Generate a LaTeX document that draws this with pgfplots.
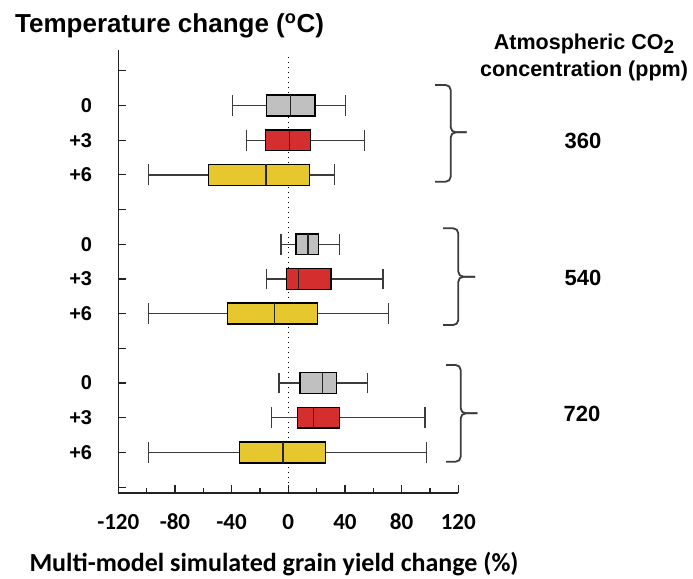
\documentclass[border=0pt]{standalone}
\usepackage{pgfplots}
\pgfplotsset{compat=1.18}
\usepgfplotslibrary{statistics}
\usepackage{fontspec}
\setmainfont{Liberation Sans}
\newfontfamily\calibri{Carlito}

\definecolor{boxgray}{HTML}{C0C0C0}
\definecolor{boxred}{HTML}{D42E2E}
\definecolor{boxyellow}{HTML}{E6C82E}
\definecolor{whisk}{HTML}{3C3C3C}
\definecolor{axcol}{HTML}{222222}

\pgfplotsset{
  hbox/.style={draw=black, line width=1.5pt,
    boxplot/draw direction=x,
    boxplot/box extend=0.6,
    boxplot/whisker extend=0.6,
    boxplot/every whisker/.style={draw=whisk, line width=1.3pt},
    boxplot/every median/.style={draw=black!85, line width=1.5pt}},
}

\begin{document}
\begin{tikzpicture}
\path[use as bounding box] (0pt,0pt) rectangle (693pt,-578pt);

\begin{axis}[
    at={(118.3pt,-493pt)}, anchor=south west,
    scale only axis,
    width=340pt, height=443pt,
    xmin=-120, xmax=120,
    ymin=0.83, ymax=13.6,
    axis lines=left,
    axis line style={-, line width=1.5pt, draw=axcol},
    tick align=inside,
    major tick length=8pt, minor tick length=5pt,
    tick style={line width=1.2pt, draw=axcol},
    xtick={-120,-80,...,120},
    xticklabels={-120,-80,-40,0,40,80,120},
    minor xtick={-100,-60,...,100},
    ytick={1,...,13},
    yticklabels={,+6,+3,0,,+6,+3,0,,+6,+3,0,},
    xticklabel style={font=\calibri\bfseries\fontsize{23}{26}\selectfont, anchor=center, yshift=-28.7pt},
    yticklabel style={font=\bfseries\fontsize{20}{24}\selectfont, anchor=east, inner sep=0pt, xshift=-26pt},
    clip=false,
]

\draw[line width=1.2pt, dash pattern=on 1.4pt off 3.6pt] (axis cs:0,0.83) -- (axis cs:0,13.45);

% 360 ppm
\addplot[hbox, fill=boxgray, boxplot prepared={draw position=12, lower whisker=-39.5, lower quartile=-15.3, median=1.4, upper quartile=18.8, upper whisker=40.5}] coordinates {};
\addplot[hbox, fill=boxred, boxplot prepared={draw position=11, lower whisker=-29.4, lower quartile=-16.0, median=1.0, upper quartile=15.8, upper whisker=53.7}] coordinates {};
\addplot[hbox, fill=boxyellow, boxplot prepared={draw position=10, lower whisker=-98.8, lower quartile=-56.2, median=-15.7, upper quartile=14.8, upper whisker=32.7}] coordinates {};

% 540 ppm
\addplot[hbox, fill=boxgray, boxplot prepared={draw position=8, lower whisker=-5.2, lower quartile=5.6, median=13.9, upper quartile=21.4, upper whisker=36.3}] coordinates {};
\addplot[hbox, fill=boxred, boxplot prepared={draw position=7, lower whisker=-15.3, lower quartile=-1.2, median=7.1, upper quartile=30.1, upper whisker=66.8}] coordinates {};
\addplot[hbox, fill=boxyellow, boxplot prepared={draw position=6, lower whisker=-98.8, lower quartile=-42.8, median=-9.9, upper quartile=20.7, upper whisker=70.6}] coordinates {};

% 720 ppm
\addplot[hbox, fill=boxgray, boxplot prepared={draw position=4, lower whisker=-6.6, lower quartile=8.3, median=24.0, upper quartile=33.9, upper whisker=55.8}] coordinates {};
\addplot[hbox, fill=boxred, boxplot prepared={draw position=3, lower whisker=-11.7, lower quartile=6.6, median=17.9, upper quartile=36.3, upper whisker=96.5}] coordinates {};
\addplot[hbox, fill=boxyellow, boxplot prepared={draw position=2, lower whisker=-98.8, lower quartile=-34.6, median=-3.7, upper quartile=26.1, upper whisker=97.7}] coordinates {};

\end{axis}

% titles
\node[anchor=base west, inner sep=0pt, font=\bfseries\fontsize{26}{30}\selectfont] at (15pt,-33pt) {Temperature change (\textsuperscript{o}C)};
\node[anchor=base, inner sep=0pt, font=\bfseries\fontsize{21.5}{25}\selectfont] at (584pt,-50pt) {Atmospheric CO\raisebox{-0.28ex}{\fontsize{19}{20}\selectfont 2}};
\node[anchor=base, inner sep=0pt, font=\bfseries\fontsize{21.5}{25}\selectfont] at (584pt,-76pt) {concentration (ppm)};
\node[anchor=base, inner sep=0pt, font=\calibri\bfseries\fontsize{26}{30}\selectfont] at (274pt,-571pt) {Multi-model simulated grain yield change (\%)};

% braces and CO2 levels
\begin{scope}[line width=1.8pt, draw=whisk, rounded corners=5pt]
\draw (435pt,-85pt) -- (450.7pt,-85pt) -- (450.7pt,-132.3pt) -- (466.7pt,-132.3pt);
\draw (466.7pt,-132.3pt) -- (450.7pt,-132.3pt) -- (450.7pt,-181.7pt) -- (435pt,-181.7pt);
\draw (443pt,-228.3pt) -- (458.3pt,-228.3pt) -- (458.3pt,-276.7pt) -- (475pt,-276.7pt);
\draw (475pt,-276.7pt) -- (458.3pt,-276.7pt) -- (458.3pt,-325pt) -- (443pt,-325pt);
\draw (446pt,-365pt) -- (460.7pt,-365pt) -- (460.7pt,-413.3pt) -- (477.3pt,-413.3pt);
\draw (477.3pt,-413.3pt) -- (460.7pt,-413.3pt) -- (460.7pt,-461.7pt) -- (446pt,-461.7pt);
\end{scope}
\node[anchor=base, inner sep=0pt, font=\bfseries\fontsize{22}{26}\selectfont] at (583pt,-148.3pt) {360};
\node[anchor=base, inner sep=0pt, font=\bfseries\fontsize{22}{26}\selectfont] at (583pt,-285.3pt) {540};
\node[anchor=base, inner sep=0pt, font=\bfseries\fontsize{22}{26}\selectfont] at (582pt,-421.3pt) {720};
\end{tikzpicture}
\end{document}
